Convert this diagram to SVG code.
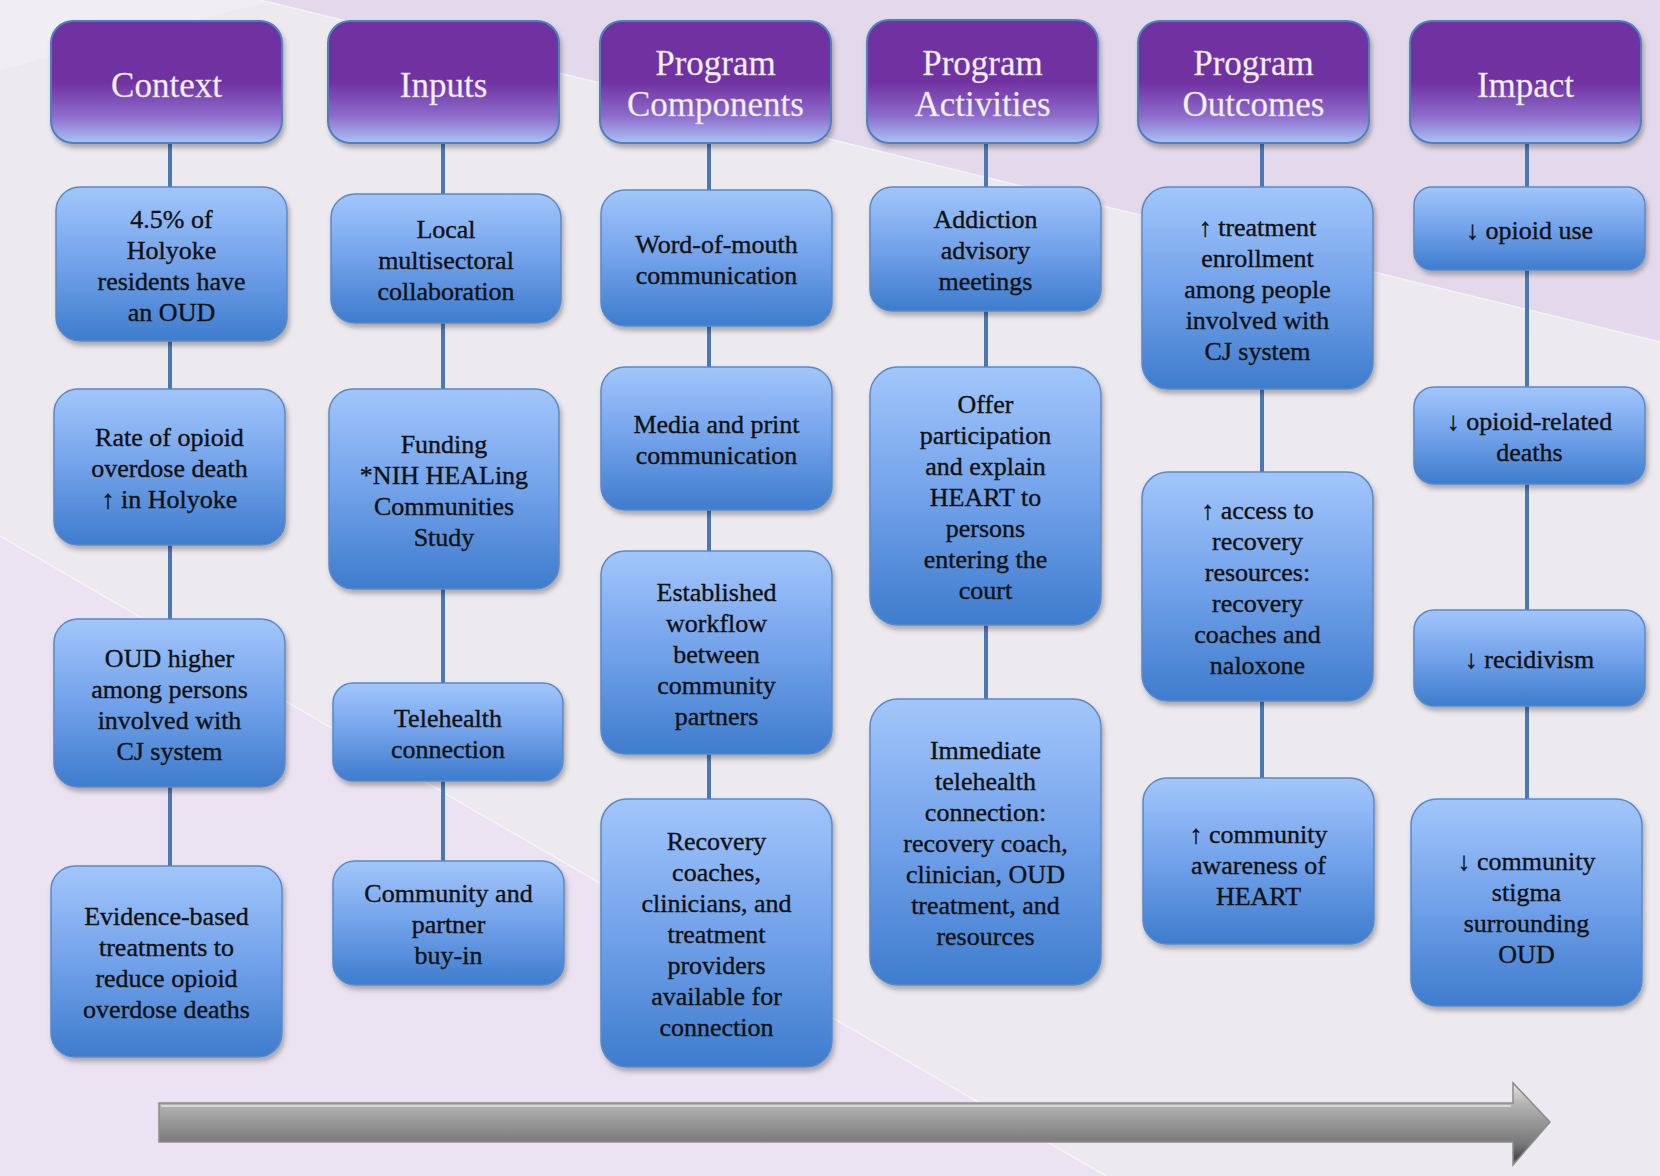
<svg xmlns="http://www.w3.org/2000/svg" width="1660" height="1176" viewBox="0 0 1660 1176">
<style>
.hdr rect{fill:url(#gh);stroke:#4f7fbd;stroke-width:2;filter:url(#sh)}
.box rect{fill:url(#gb);stroke:#5a89c6;stroke-width:1.5;filter:url(#sh)}
.hdr text{font-family:'Liberation Serif','DejaVu Serif',serif;font-size:35px;fill:#f3f1f6;stroke:#d8d2e4;stroke-width:0.3;text-anchor:middle}
.box text{font-family:'Liberation Serif','DejaVu Serif',serif;font-size:26px;fill:#111;stroke:#111;stroke-width:0.35;text-anchor:middle}
#connectors path{stroke:#4b78b2;stroke-width:4;fill:none}
</style>
<defs>
<linearGradient id="gh" x1="0" y1="0" x2="0" y2="1">
<stop offset="0" stop-color="#7030a0"/>
<stop offset="0.5" stop-color="#7131a1"/>
<stop offset="0.78" stop-color="#8d6ccb"/>
<stop offset="1" stop-color="#a9c4f6"/>
</linearGradient>
<linearGradient id="gb" x1="0" y1="0" x2="0" y2="1">
<stop offset="0" stop-color="#a2c6fb"/>
<stop offset="0.5" stop-color="#72a2ea"/>
<stop offset="1" stop-color="#3e7ccd"/>
</linearGradient>
<linearGradient id="ga" x1="0" y1="0" x2="0" y2="1">
<stop offset="0" stop-color="#e6e6e6"/>
<stop offset="0.25" stop-color="#b4b4b4"/>
<stop offset="0.75" stop-color="#777"/>
<stop offset="0.92" stop-color="#4a4a4a"/>
<stop offset="1" stop-color="#9a9a9a"/>
</linearGradient>
<filter id="sh" x="-10%" y="-10%" width="125%" height="125%">
<feDropShadow dx="2" dy="4" stdDeviation="2.5" flood-color="#000" flood-opacity="0.28"/>
</filter>
</defs>
<rect width="1660" height="1176" fill="#ece9ef"/>
<polygon points="0,0 275,0 0,70" fill="#f0eef4"/>
<polygon points="260,0 1660,0 1660,342" fill="#e3d9ea"/>
<polygon points="0,536 1106,1176 0,1176" fill="#ebe3f1"/>
<line x1="260" y1="0" x2="1660" y2="342" stroke="#f4f2f7" stroke-width="1.5"/>
<line x1="0" y1="536" x2="1106" y2="1176" stroke="#f6f4f9" stroke-width="1.5"/>

<g id="connectors">
<path d="M170 143V187M170 341V389M170 545V619M170 787V866"/>
<path d="M443 143V194M443 323V389M443 589V683M443 781V861"/>
<path d="M709 143V190M709 326V367M709 510V551M709 754V799"/>
<path d="M986 143V187M986 311V367M986 625V699"/>
<path d="M1262 143V187M1262 389V472M1262 701V778"/>
<path d="M1527 143V187M1527 270V387M1527 484V610M1527 706V799"/>
</g>

<g id="h-context" class="hdr"><rect x="51" y="21" width="231" height="122" rx="22"/><text x="166.5" y="97">Context</text></g>
<g id="h-inputs" class="hdr"><rect x="328" y="21" width="231" height="122" rx="22"/><text x="443.5" y="97">Inputs</text></g>
<g id="h-components" class="hdr"><rect x="600" y="21" width="231" height="122" rx="22"/><text x="715.5" y="75">Program</text><text x="715.5" y="116">Components</text></g>
<g id="h-activities" class="hdr"><rect x="867" y="20" width="231" height="123" rx="22"/><text x="982.5" y="75">Program</text><text x="982.5" y="116">Activities</text></g>
<g id="h-outcomes" class="hdr"><rect x="1138" y="21" width="231" height="122" rx="22"/><text x="1253.5" y="75">Program</text><text x="1253.5" y="116">Outcomes</text></g>
<g id="h-impact" class="hdr"><rect x="1410" y="21" width="231" height="122" rx="22"/><text x="1525.5" y="97">Impact</text></g>

<g id="c1" class="box"><rect x="56" y="187" width="231" height="154" rx="24"/>
<text x="171.5" y="227.5">4.5% of</text><text x="171.5" y="258.5">Holyoke</text><text x="171.5" y="289.5">residents have</text><text x="171.5" y="320.5">an OUD</text></g>
<g id="c2" class="box"><rect x="54" y="389" width="231" height="156" rx="24"/>
<text x="169.5" y="446">Rate of opioid</text><text x="169.5" y="477">overdose death</text><text x="169.5" y="508">↑ in Holyoke</text></g>
<g id="c3" class="box"><rect x="54" y="619" width="231" height="168" rx="24"/>
<text x="169.5" y="666.5">OUD higher</text><text x="169.5" y="697.5">among persons</text><text x="169.5" y="728.5">involved with</text><text x="169.5" y="759.5">CJ system</text></g>
<g id="c4" class="box"><rect x="51" y="866" width="231" height="191" rx="24"/>
<text x="166.5" y="925">Evidence-based</text><text x="166.5" y="956">treatments to</text><text x="166.5" y="987">reduce opioid</text><text x="166.5" y="1018">overdose deaths</text></g>

<g id="i1" class="box"><rect x="331" y="194" width="230" height="129" rx="24"/>
<text x="446" y="237.5">Local</text><text x="446" y="268.5">multisectoral</text><text x="446" y="299.5">collaboration</text></g>
<g id="i2" class="box"><rect x="329" y="389" width="230" height="200" rx="24"/>
<text x="444" y="452.5">Funding</text><text x="444" y="483.5">*NIH HEALing</text><text x="444" y="514.5">Communities</text><text x="444" y="545.5">Study</text></g>
<g id="i3" class="box"><rect x="333" y="683" width="230" height="98" rx="20"/>
<text x="448" y="726.5">Telehealth</text><text x="448" y="757.5">connection</text></g>
<g id="i4" class="box"><rect x="333" y="861" width="231" height="124" rx="22"/>
<text x="448.5" y="902">Community and</text><text x="448.5" y="933">partner</text><text x="448.5" y="964">buy-in</text></g>

<g id="p1" class="box"><rect x="601" y="190" width="231" height="136" rx="24"/>
<text x="716.5" y="252.5">Word-of-mouth</text><text x="716.5" y="283.5">communication</text></g>
<g id="p2" class="box"><rect x="601" y="367" width="231" height="143" rx="24"/>
<text x="716.5" y="433">Media and print</text><text x="716.5" y="464">communication</text></g>
<g id="p3" class="box"><rect x="601" y="551" width="231" height="203" rx="24"/>
<text x="716.5" y="600.5">Established</text><text x="716.5" y="631.5">workflow</text><text x="716.5" y="662.5">between</text><text x="716.5" y="693.5">community</text><text x="716.5" y="724.5">partners</text></g>
<g id="p4" class="box"><rect x="601" y="799" width="231" height="268" rx="26"/>
<text x="716.5" y="850">Recovery</text><text x="716.5" y="881">coaches,</text><text x="716.5" y="912">clinicians, and</text><text x="716.5" y="943">treatment</text><text x="716.5" y="974">providers</text><text x="716.5" y="1005">available for</text><text x="716.5" y="1036">connection</text></g>

<g id="a1" class="box"><rect x="870" y="187" width="231" height="124" rx="22"/>
<text x="985.5" y="228">Addiction</text><text x="985.5" y="259">advisory</text><text x="985.5" y="290">meetings</text></g>
<g id="a2" class="box"><rect x="870" y="367" width="231" height="258" rx="28"/>
<text x="985.5" y="413">Offer</text><text x="985.5" y="444">participation</text><text x="985.5" y="475">and explain</text><text x="985.5" y="506">HEART to</text><text x="985.5" y="537">persons</text><text x="985.5" y="568">entering the</text><text x="985.5" y="599">court</text></g>
<g id="a3" class="box"><rect x="870" y="699" width="231" height="286" rx="28"/>
<text x="985.5" y="759">Immediate</text><text x="985.5" y="790">telehealth</text><text x="985.5" y="821">connection:</text><text x="985.5" y="852">recovery coach,</text><text x="985.5" y="883">clinician, OUD</text><text x="985.5" y="914">treatment, and</text><text x="985.5" y="945">resources</text></g>

<g id="o1" class="box"><rect x="1142" y="187" width="231" height="202" rx="26"/>
<text x="1257.5" y="236">↑ treatment</text><text x="1257.5" y="267">enrollment</text><text x="1257.5" y="298">among people</text><text x="1257.5" y="329">involved with</text><text x="1257.5" y="360">CJ system</text></g>
<g id="o2" class="box"><rect x="1142" y="472" width="231" height="229" rx="26"/>
<text x="1257.5" y="519">↑  access to</text><text x="1257.5" y="550">recovery</text><text x="1257.5" y="581">resources:</text><text x="1257.5" y="612">recovery</text><text x="1257.5" y="643">coaches and</text><text x="1257.5" y="674">naloxone</text></g>
<g id="o3" class="box"><rect x="1143" y="778" width="231" height="166" rx="24"/>
<text x="1258.5" y="843">↑  community</text><text x="1258.5" y="874">awareness of</text><text x="1258.5" y="905">HEART</text></g>

<g id="m1" class="box"><rect x="1414" y="187" width="231" height="83" rx="18"/>
<text x="1529.5" y="238.5">↓  opioid use</text></g>
<g id="m2" class="box"><rect x="1414" y="387" width="231" height="97" rx="20"/>
<text x="1529.5" y="430">↓  opioid-related</text><text x="1529.5" y="461">deaths</text></g>
<g id="m3" class="box"><rect x="1414" y="610" width="231" height="96" rx="20"/>
<text x="1529.5" y="668">↓  recidivism</text></g>
<g id="m4" class="box"><rect x="1411" y="799" width="231" height="207" rx="26"/>
<text x="1526.5" y="870">↓  community</text><text x="1526.5" y="901">stigma</text><text x="1526.5" y="932">surrounding</text><text x="1526.5" y="963">OUD</text></g>

<g id="timeline">
<polygon points="159,1103 1513,1103 1513,1083 1550,1122 1513,1165 1513,1142 159,1142" fill="url(#ga)" stroke="#8c8c8c" stroke-width="1.5"/>
<line x1="161" y1="1106" x2="1511" y2="1106" stroke="#f2f2f2" stroke-width="1.5" opacity="0.8"/>
</g>
</svg>
